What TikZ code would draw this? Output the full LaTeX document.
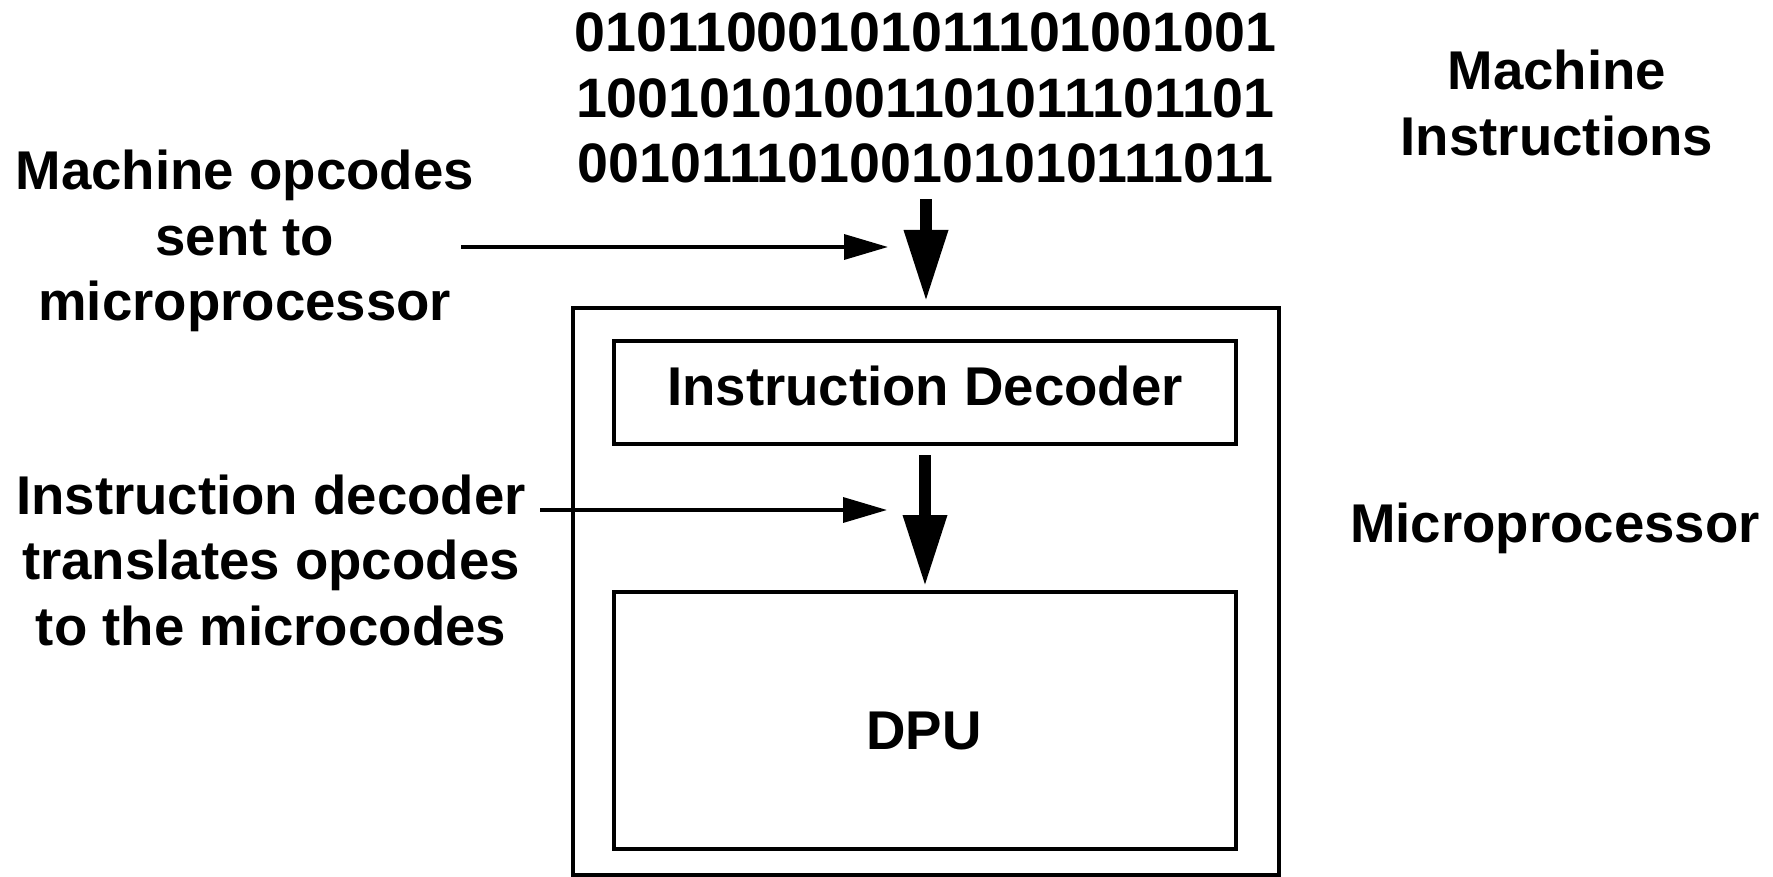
\documentclass[tikz,border=0pt]{standalone}
\usepackage{fontspec}
\setmainfont{Liberation Sans}
\usetikzlibrary{arrows.meta}
\tikzset{
  lbl/.style={inner sep=0pt, outer sep=0pt, align=center,
    font=\bfseries\fontsize{27.3}{32.75}\selectfont},
  binlbl/.style={lbl, font=\bfseries\fontsize{27.8}{32.6}\selectfont},
  box/.style={draw, line width=1.75pt, inner sep=0pt, outer sep=0pt},
  bigarrow/.style={line width=6.3pt, -{Triangle[length=36pt,width=20.5pt]}},
  thinarrow/.style={line width=1.75pt, -{Triangle[length=22pt,width=12.5pt]}}
}
\begin{document}
\begin{tikzpicture}[x=0.5pt,y=-0.5pt]
\path[use as bounding box] (0,0) rectangle (1773,877);
% boxes
\node[box, minimum width=353pt, minimum height=283.5pt] (mp) at (926,591.5) {};
\node[box, minimum width=311pt, minimum height=51.5pt] (dec) at (925,392.5) {};
\node[box, minimum width=311pt, minimum height=128.5pt] (dpu) at (925,720.5) {};
% texts
\node[lbl, anchor=base] (dect) at (925,406) {Instruction Decoder};
\node[lbl, anchor=base] (dput) at (924,749) {DPU};
\node[binlbl, anchor=north] (bin) at (925.5,13) {01011000101011101001001\\10010101001101011101101\\00101110100101010111011};
\node[lbl, anchor=north] (mi) at (1557,50) {Machine\\Instructions};
\node[lbl, anchor=base] (mpt) at (1555,542) {Microprocessor};
\node[lbl, anchor=north] (l1) at (244.8,150) {Machine opcodes\\sent to\\microprocessor};
\node[lbl, anchor=north] (l2) at (271,474.6) {Instruction decoder\\translates opcodes\\to the microcodes};
% connectors
\coordinate (c1s) at (461,247);
\coordinate (c1e) at (888,247);
\coordinate (c2s) at (540,510);
\coordinate (c2e) at (887,510);
\draw[thinarrow] (c1s) -- (c1e);
\draw[thinarrow] (c2s) -- (c2e);
\draw[bigarrow, shorten <=8.25pt, shorten >=3pt] (bin.south -| mp.north) -- (mp.north);
\draw[bigarrow, shorten <=5.5pt, shorten >=2.5pt] (dec.south) -- (dpu.north);
\end{tikzpicture}
\end{document}
